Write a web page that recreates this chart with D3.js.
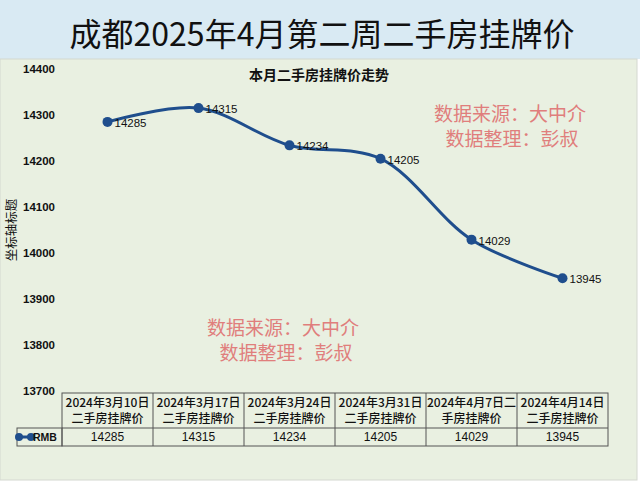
<!DOCTYPE html>
<html>
<head>
<meta charset="utf-8">
<script src="https://cdn.jsdelivr.net/npm/d3@7"></script>
<style>
	html, body { margin: 0; padding: 0; background: #ffffff; }
	svg { display: block; }
</style>
</head>
<body>
<svg id="chart" width="640" height="483"></svg>
<script>
const categories = [
	"2024年3月10日二手房挂牌价",
	"2024年3月17日二手房挂牌价",
	"2024年3月24日二手房挂牌价",
	"2024年3月31日二手房挂牌价",
	"2024年4月7日二手房挂牌价",
	"2024年4月14日二手房挂牌价"
]
const prices = [14285, 14315, 14234, 14205, 14029, 13945]
const yTicks = [13700, 13800, 13900, 14000, 14100, 14200, 14300, 14400]
const seriesName = "RMB"
const title = "成都2025年4月第二周二手房挂牌价"
const subtitle = "本月二手房挂牌价走势"
const yTitle = "坐标轴标题"
const notes = ["数据来源：大中介", "数据整理：彭叔"]

const cjk = "'Noto Sans CJK SC', 'Noto Sans', sans-serif"
const latin = "'Liberation Sans', Arial, sans-serif"
const lineColor = "#1f4e8d"

const svg = d3.select("#chart")

// background bands
svg.append("rect")
	.attr("x", 0).attr("y", 0)
	.attr("width", 640).attr("height", 59)
	.attr("fill", "#d9eaf3")
svg.append("rect")
	.attr("x", 0).attr("y", 59)
	.attr("width", 637).attr("height", 421)
	.attr("fill", "#e9f0e1")
	.attr("stroke", "#d4d8d0")

svg.append("text")
	.attr("x", 322).attr("y", 46)
	.attr("text-anchor", "middle")
	.attr("font-family", cjk)
	.attr("font-size", 32)
	.attr("font-weight", 400)
	.attr("fill", "#111")
	.text(title)

svg.append("text")
	.attr("x", 319).attr("y", 80)
	.attr("text-anchor", "middle")
	.attr("font-family", cjk)
	.attr("font-size", 14)
	.attr("font-weight", 700)
	.attr("fill", "#111")
	.text(subtitle)

const x = d3.scaleBand()
	.domain(categories)
	.range([62, 608])
const y = d3.scaleLinear()
	.domain([13700, 14400])
	.range([391, 69])

// y axis (labels only)
const yAxis = svg.append("g")
	.attr("transform", "translate(55,0)")
	.call(d3.axisLeft(y).tickValues(yTicks).tickSize(0).tickPadding(0).tickFormat(d3.format("d")))
yAxis.select(".domain").remove()
yAxis.selectAll("text")
	.attr("font-family", latin)
	.attr("font-size", 11.5)
	.attr("font-weight", 700)
	.attr("fill", "#111")

svg.append("text")
	.attr("transform", "translate(16,230) rotate(-90)")
	.attr("text-anchor", "middle")
	.attr("font-family", cjk)
	.attr("font-size", 12.5)
	.attr("fill", "#111")
	.text(yTitle)

// watermark notes
function drawNotes(cx, ys){
	notes.forEach((t, i)=>{
		svg.append("text")
			.attr("x", cx[i]).attr("y", ys[i])
			.attr("text-anchor", "middle")
			.attr("dominant-baseline", "central")
			.attr("font-family", cjk)
			.attr("font-size", 19)
			.attr("fill", "#e07272")
			.attr("opacity", 0.9)
			.text(t)
	})
}
drawNotes([510, 512], [112, 137])
drawNotes([283, 286], [326, 351])

// line
const cx = d=>x(d) + x.bandwidth()/2
const line = d3.line()
	.x((d, i)=>cx(categories[i]))
	.y(d=>y(d))
	.curve(d3.curveCatmullRom.alpha(0.5))

svg.append("path")
	.datum(prices)
	.attr("d", line)
	.attr("fill", "none")
	.attr("stroke", lineColor)
	.attr("stroke-width", 3)

svg.selectAll("circle.pt")
	.data(prices)
	.join("circle")
	.attr("class", "pt")
	.attr("cx", (d, i)=>cx(categories[i]))
	.attr("cy", d=>y(d))
	.attr("r", 5)
	.attr("fill", lineColor)

svg.selectAll("text.lbl")
	.data(prices)
	.join("text")
	.attr("class", "lbl")
	.attr("x", (d, i)=>cx(categories[i]) + 7)
	.attr("y", d=>y(d) + 1)
	.attr("dominant-baseline", "central")
	.attr("font-family", latin)
	.attr("font-size", 11.5)
	.attr("fill", "#111")
	.text(d=>d)

// data table
const tTop = 393, tMid = 428, tBot = 446
const grid = svg.append("g")
	.attr("stroke", "#555")
	.attr("stroke-width", 1)
	.attr("fill", "none")
grid.append("rect")
	.attr("x", 62).attr("y", tTop)
	.attr("width", 546).attr("height", tBot - tTop)
grid.append("rect")
	.attr("x", 17).attr("y", tMid)
	.attr("width", 45).attr("height", tBot - tMid)
grid.append("line")
	.attr("x1", 62).attr("x2", 608)
	.attr("y1", tMid).attr("y2", tMid)
grid.selectAll("line.col")
	.data(categories.slice(1))
	.join("line")
	.attr("class", "col")
	.attr("x1", d=>x(d)).attr("x2", d=>x(d))
	.attr("y1", tTop).attr("y2", tBot)

// header cells wrap after 10 characters, like the spreadsheet did
const head = svg.selectAll("text.head")
	.data(categories)
	.join("text")
	.attr("class", "head")
	.attr("text-anchor", "middle")
	.attr("font-family", cjk)
	.attr("font-size", 12)
	.attr("font-weight", 500)
	.attr("fill", "#111")
head.selectAll("tspan")
	.data(d=>[d.slice(0, 10), d.slice(10)].map(t=>({t: t, c: d})))
	.join("tspan")
	.attr("x", d=>cx(d.c))
	.attr("y", (d, i)=>i===0 ? 407 : 423)
	.text(d=>d.t)

svg.selectAll("text.val")
	.data(prices)
	.join("text")
	.attr("class", "val")
	.attr("x", (d, i)=>cx(categories[i]))
	.attr("y", 437)
	.attr("text-anchor", "middle")
	.attr("dominant-baseline", "central")
	.attr("font-family", latin)
	.attr("font-size", 12)
	.attr("fill", "#111")
	.text(d=>d)

// legend key inside table
const key = svg.append("g")
key.append("line")
	.attr("x1", 19).attr("x2", 31)
	.attr("y1", 437).attr("y2", 437)
	.attr("stroke", lineColor)
	.attr("stroke-width", 3)
key.selectAll("circle")
	.data([19, 31])
	.join("circle")
	.attr("cx", d=>d).attr("cy", 437)
	.attr("r", 4)
	.attr("fill", lineColor)
key.append("text")
	.attr("x", 33).attr("y", 437)
	.attr("dominant-baseline", "central")
	.attr("font-family", latin)
	.attr("font-size", 10.5)
	.attr("font-weight", 700)
	.attr("fill", "#111")
	.text(seriesName)
</script>
</body>
</html>
